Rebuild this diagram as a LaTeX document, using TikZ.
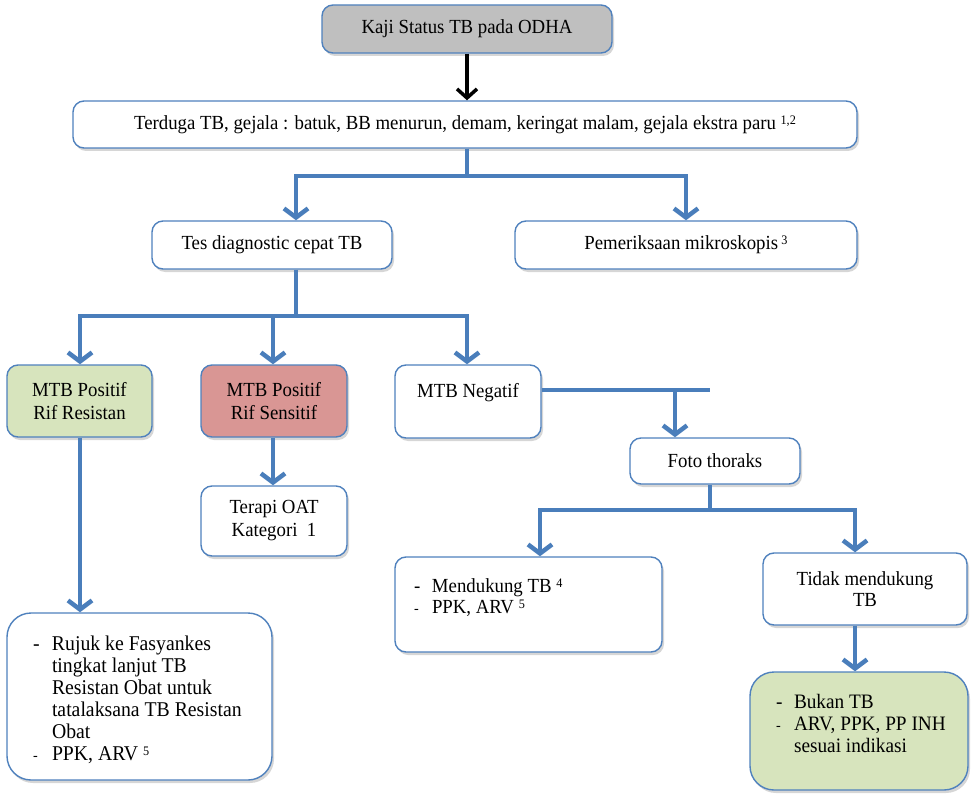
\documentclass[tikz,border=0pt]{standalone}
\usepackage{fontspec}
\setmainfont{Liberation Serif}[FakeStretch=0.94]
\usetikzlibrary{arrows.meta,shadows}
\definecolor{bord}{HTML}{4F81BD}
\definecolor{conncol}{HTML}{4A7EBB}
\definecolor{kgray}{HTML}{BFBFBF}
\definecolor{kgreen}{HTML}{D7E4BD}
\definecolor{kred}{HTML}{D99694}
\newcommand{\sdash}{{\fontsize{15}{15}\selectfont -}}
\newcommand{\sups}[1]{\raisebox{0.55ex}{\fontsize{13}{13}\selectfont #1}}
\begin{document}
\begin{tikzpicture}[x=1pt,y=-1pt,
  box/.style={draw=bord, line width=1.4pt, rounded corners=11pt, fill=white,
    drop shadow={shadow xshift=2pt, shadow yshift=-3pt, fill=black!32},
    align=center, inner sep=0pt, font=\fontsize{20}{23}\selectfont},
  bigbox/.style={box, rounded corners=24pt},
  conn/.style={draw=conncol, line width=4.5pt, line join=miter},
  >={Straight Barb[length=9pt,width=24pt]},
  blk/.style={draw=black, line width=3.5pt, -{Straight Barb[length=9pt,width=20pt]}}
]
\useasboundingbox (0,0) rectangle (971,794);

% nodes
\node[box, fill=kgray, minimum width=290pt, minimum height=48pt] (kaji) at (467,29) {Kaji Status TB pada ODHA};
\node[box, minimum width=784pt, minimum height=47pt] (terduga) at (465,124.5)
  {Terduga TB, gejala : batuk, BB menurun, demam, keringat malam, gejala ekstra paru \sups{1,2}};
\node[box, minimum width=240pt, minimum height=48pt] (tes) at (272,245) {Tes diagnostic cepat TB};
\node[box, minimum width=342pt, minimum height=48pt] (pem) at (686,245) {Pemeriksaan mikroskopis\,\sups{3}};
\node[box, fill=kgreen, minimum width=145pt, minimum height=72pt] (res) at (79.5,401) {MTB Positif\\Rif Resistan};
\node[box, fill=kred, minimum width=146pt, minimum height=72pt] (sen) at (274,401) {MTB Positif\\Rif Sensitif};
\node[box, minimum width=146pt, minimum height=73pt] (neg) at (468,401.5) {MTB Negatif\\\mbox{}};
\node[box, minimum width=146pt, minimum height=70pt] (ter) at (274,521) {Terapi OAT\\Kategori\ \ 1};
\node[box, minimum width=170pt, minimum height=46pt] (foto) at (715,461) {Foto thoraks};
\node[box, minimum width=204pt, minimum height=72pt, font=\fontsize{20}{21}\selectfont] (tidak) at (865,589) {Tidak mendukung\\TB};
\node[box, minimum width=267pt, minimum height=95pt] (mend) at (528.5,604.5)
  {\parbox[c][95pt][t]{267pt}{\fontsize{20}{21}\selectfont\vspace*{21pt}%
   \begin{tabular}{@{\hspace{19pt}}p{18pt}@{}l@{}}
   - & Mendukung TB \sups{4}\\
   \sdash & PPK, ARV \sups{5}
   \end{tabular}}};
\node[bigbox, minimum width=265pt, minimum height=167pt] (big) at (139.5,696.5)
  {\parbox[c][167pt][t]{265pt}{\fontsize{21}{22}\selectfont\vspace*{22pt}%
   \begin{tabular}{@{\hspace{26pt}}p{19pt}@{}l@{}}
   - & Rujuk ke Fasyankes\\
     & tingkat lanjut TB\\
     & Resistan Obat untuk\\
     & tatalaksana TB Resistan\\
     & Obat\\
   \sdash & PPK, ARV \sups{5}
   \end{tabular}}};
\node[bigbox, fill=kgreen, minimum width=218pt, minimum height=118pt] (bukan) at (859,731)
  {\parbox[c][118pt][t]{218pt}{\fontsize{20.5}{22}\selectfont\vspace*{21pt}%
   \begin{tabular}{@{\hspace{26pt}}p{18pt}@{}l@{}}
   - & Bukan TB\\
   \sdash & ARV, PPK, PP INH\\
     & sesuai indikasi
   \end{tabular}}};

% helper coordinates
\coordinate (a0) at (467,176);
\coordinate (a1) at (296,176);
\coordinate (a2) at (686,176);
\coordinate (c0) at (296,316);
\coordinate (c1) at (80,316);
\coordinate (c2) at (273,316);
\coordinate (c3) at (467,316);
\coordinate (n1) at (710,390);
\coordinate (n2) at (675,390);
\coordinate (f0) at (710,510);
\coordinate (f1) at (540,510);
\coordinate (f2) at (855,510);

% connectors
\draw[blk] (kaji.south) -- (kaji.south |- terduga.north);
\draw[conn] (a0 |- terduga.south) -- (a0);
\draw[conn,<->] (a1 |- tes.north) -- (a1) -- (a2) -- (a2 |- pem.north);
\draw[conn] (c0 |- tes.south) -- (c0);
\draw[conn,<->] (c1 |- res.north) -- (c1) -- (c3) -- (c3 |- neg.north);
\draw[conn,->] (c2) -- (c2 |- sen.north);
\draw[conn,->] (sen.south -| c2) -- (c2 |- ter.north);
\draw[conn,->] (res.south -| c1) -- (c1 |- big.north);
\draw[conn] (n1 -| neg.east) -- (n1);
\draw[conn,->] (n2) -- (n2 |- foto.north);
\draw[conn] (f0 |- foto.south) -- (f0);
\draw[conn,<->] (f1 |- mend.north) -- (f1) -- (f2) -- (f2 |- tidak.north);
\draw[conn,->] (f2 |- tidak.south) -- (f2 |- bukan.north);
\end{tikzpicture}
\end{document}
